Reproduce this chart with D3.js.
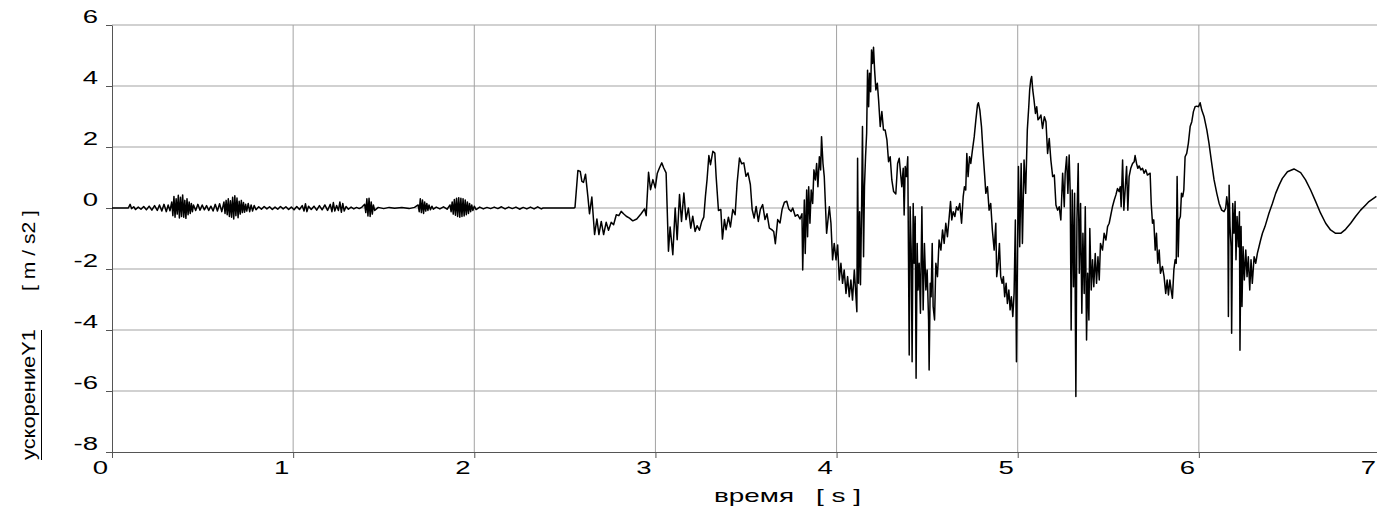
<!DOCTYPE html>
<html>
<head>
<meta charset="utf-8">
<script src="https://cdn.jsdelivr.net/npm/d3@7"></script>
<style>
  body { margin: 0; background: #fff; }
  svg { display: block; font-family: "Liberation Sans", Arial, sans-serif; }
</style>
</head>
<body>
<div id="chart"></div>
<script>
// tick values for both axes
var timeTicks = [0, 1, 2, 3, 4, 5, 6, 7];
var accelTicks = [-8, -6, -4, -2, 0, 2, 4, 6];

// acceleration signal, pairs of [time s, accel m/s2]
// low level vibration before the event
var quietPhase = [
  [0, 0], [0.09, 0], [0.1, 0.12], [0.108, -0.02], [0.12, 0.04], [0.13, -0.05], [0.145, 0.03], [0.16, -0.04],
  [0.175, 0.05], [0.19, -0.06], [0.205, 0.06], [0.22, -0.07], [0.235, 0.08], [0.25, -0.08], [0.262, 0.1],
  [0.275, -0.1], [0.287, 0.12], [0.3, -0.12], [0.31, 0.1], [0.32, -0.09],
  [0.33, 0.2], [0.336, -0.25], [0.342, 0.38], [0.348, -0.3], [0.354, 0.3], [0.36, -0.2], [0.366, 0.42],
  [0.372, -0.33], [0.378, 0.35], [0.384, -0.28], [0.39, 0.43], [0.396, -0.3], [0.402, 0.25], [0.408, -0.34],
  [0.414, 0.3], [0.42, -0.22], [0.426, 0.2], [0.432, -0.18], [0.438, 0.15], [0.444, -0.12], [0.45, 0.1],
  [0.462, -0.08], [0.474, 0.12], [0.486, -0.07], [0.498, 0.1], [0.51, -0.06], [0.522, 0.08], [0.534, -0.08],
  [0.546, 0.06], [0.558, -0.1], [0.57, 0.12], [0.582, -0.1], [0.594, 0.14], [0.606, -0.12],
  [0.618, 0.2], [0.624, -0.18], [0.63, 0.25], [0.636, -0.22], [0.642, 0.3], [0.648, -0.28], [0.654, 0.24],
  [0.66, -0.3], [0.666, 0.35], [0.672, -0.36], [0.678, 0.4], [0.684, -0.25], [0.69, 0.33], [0.696, -0.32],
  [0.702, 0.22], [0.708, -0.2], [0.714, 0.25], [0.72, -0.15], [0.726, 0.18], [0.732, -0.14], [0.738, 0.12],
  [0.744, -0.1], [0.752, 0.15], [0.76, -0.12], [0.768, 0.1], [0.776, -0.1], [0.785, 0.08], [0.795, -0.06],
  [0.81, 0.04], [0.825, -0.04], [0.84, 0.05], [0.855, -0.03], [0.87, 0.04], [0.885, -0.05], [0.9, 0.03],
  [0.915, -0.04], [0.93, 0.05], [0.945, -0.03], [0.96, 0.04], [0.975, -0.05], [0.99, 0.03], [1.005, -0.06],
  [1.02, 0.05], [1.035, -0.05], [1.05, 0.08], [1.06, -0.1], [1.068, 0.14], [1.076, -0.12], [1.085, 0.06],
  [1.1, -0.05], [1.115, 0.06], [1.13, -0.07], [1.145, 0.08], [1.16, -0.06], [1.175, 0.1], [1.19, -0.08],
  [1.205, 0.12], [1.214, -0.12], [1.222, 0.18], [1.23, -0.1], [1.24, 0.08], [1.25, -0.08], [1.258, 0.2],
  [1.266, -0.14], [1.274, 0.15], [1.282, -0.1], [1.292, 0.05], [1.305, -0.04], [1.32, 0.03], [1.335, -0.03],
  [1.35, 0.02], [1.365, -0.02], [1.38, 0.03],
  [1.395, 0.12], [1.401, -0.15], [1.407, 0.3], [1.413, -0.26], [1.419, 0.32], [1.425, -0.28], [1.431, 0.2],
  [1.437, -0.2], [1.443, 0.1], [1.45, -0.08],
  [1.47, 0.02], [1.5, -0.02], [1.53, 0.02], [1.56, -0.01], [1.6, 0.02], [1.64, -0.02], [1.67, 0.02],
  [1.69, 0.1], [1.696, -0.12], [1.702, 0.3], [1.708, -0.15], [1.714, 0.26], [1.72, -0.18], [1.726, 0.2],
  [1.732, -0.1], [1.738, 0.15], [1.744, -0.08], [1.75, 0.1], [1.758, -0.06], [1.766, 0.06], [1.774, -0.04],
  [1.79, 0.03], [1.81, -0.03], [1.83, 0.04], [1.85, -0.04],
  [1.866, 0.1], [1.872, -0.12], [1.878, 0.2], [1.884, -0.2], [1.89, 0.28], [1.896, -0.24], [1.902, 0.32],
  [1.908, -0.28], [1.914, 0.34], [1.92, -0.3], [1.926, 0.32], [1.932, -0.28], [1.938, 0.3], [1.944, -0.26],
  [1.95, 0.26], [1.956, -0.22], [1.962, 0.2], [1.968, -0.18], [1.974, 0.15], [1.98, -0.12], [1.986, 0.1],
  [1.992, -0.08], [2.0, 0.06], [2.01, -0.05],
  [2.03, 0.03], [2.05, -0.03], [2.07, 0.02], [2.09, -0.02], [2.11, 0.03], [2.13, -0.02], [2.15, 0.04],
  [2.17, -0.03], [2.19, 0.03], [2.21, -0.02], [2.23, 0.03], [2.25, -0.04], [2.27, 0.02], [2.29, -0.03],
  [2.31, 0.03], [2.33, -0.03], [2.35, 0.04], [2.37, -0.03], [2.38, 0], [2.55, 0]
];

// first hits, 2.55 .. 3.8 s
var transientPhase = [
  [2.556, 0.02], [2.572, 1.23], [2.585, 1.2], [2.594, 0.87], [2.603, 0.84], [2.614, 1.11], [2.627, 0.38],
  [2.636, -0.19], [2.649, 0.36], [2.664, -0.87], [2.677, -0.36], [2.688, -0.87], [2.701, -0.44], [2.714, -0.87],
  [2.728, -0.47], [2.741, -0.73], [2.756, -0.47], [2.769, -0.55], [2.784, -0.22], [2.798, -0.25], [2.811, -0.11],
  [2.824, -0.19], [2.839, -0.27], [2.857, -0.33], [2.875, -0.42], [2.897, -0.36], [2.921, -0.19], [2.94, -0.03],
  [2.949, -0.25], [2.962, 1.17], [2.973, 0.6], [2.986, 0.93], [2.999, 0.66], [3.01, 1.13], [3.022, 1.31],
  [3.035, 1.48], [3.046, 1.31], [3.059, 1.15], [3.072, -1.42], [3.081, -0.62], [3.096, -1.53], [3.109, 0],
  [3.12, -1.04], [3.133, 0.44], [3.144, -0.44], [3.157, 0.49], [3.169, -0.38], [3.182, 0], [3.195, -0.66],
  [3.206, -0.27], [3.219, -0.77], [3.23, -0.58], [3.243, -0.73], [3.256, -0.44], [3.267, -0.3], [3.276, 0.38],
  [3.285, 0.93], [3.295, 1.72], [3.304, 1.42], [3.317, 1.86], [3.328, 1.8], [3.335, 1.04], [3.348, -0.08],
  [3.361, -0.05], [3.37, -1.02], [3.381, -0.38], [3.39, -0.71], [3.403, -0.3], [3.414, -0.62], [3.427, -0.05],
  [3.44, -0.22], [3.451, 0.82], [3.464, 1.64], [3.476, 1.45], [3.488, 1.48], [3.5, 1.04], [3.511, 1.15],
  [3.524, 0.77], [3.534, -0.05], [3.545, -0.33], [3.556, 0.05], [3.568, -0.44], [3.579, -0.05], [3.592, 0.11],
  [3.605, -0.38], [3.616, -0.19], [3.629, -0.66], [3.642, -0.71], [3.653, -0.77], [3.662, -1.17], [3.675, -0.38],
  [3.688, -0.49], [3.699, -0.05], [3.712, 0.19], [3.725, 0.22], [3.736, -0.03], [3.749, -0.11], [3.758, 0],
  [3.772, -0.27], [3.785, -0.22], [3.798, -0.36], [3.809, -0.19]
];

// strongest part, 3.8 .. 5.1 s
var impactPhase = [
  [3.813, -2.03], [3.822, 0.26], [3.827, -1.49], [3.835, 0.59], [3.84, -0.94], [3.846, 0.7], [3.853, -0.5],
  [3.86, 0.59], [3.868, 0.15], [3.875, 1.25], [3.883, 0.92], [3.89, 1.46], [3.897, 0.7], [3.905, 1.68],
  [3.912, 1.25], [3.917, 2.34], [3.925, 1.46], [3.932, 1.03], [3.945, -0.83], [3.96, 0.04], [3.969, -0.5],
  [3.978, -1.7], [3.987, -1.16], [3.997, -1.7], [4.006, -1.21], [4.015, -2.36], [4.024, -1.81], [4.033, -2.47],
  [4.042, -2.03], [4.052, -2.8], [4.061, -2.25], [4.07, -2.91], [4.079, -2.36], [4.088, -3.02], [4.098, -2.03],
  [4.107, -2.91], [4.112, -3.4], [4.116, 1.63], [4.121, -2.47], [4.127, -0.12], [4.132, -2.52], [4.138, -0.07],
  [4.143, 2.67], [4.149, -1.6], [4.154, 0.7], [4.16, 1.68], [4.166, 2.45], [4.171, 4.52], [4.177, 3.32],
  [4.182, 4.42], [4.188, 3.81], [4.193, 5.18], [4.199, 4.74], [4.204, 5.27], [4.21, 4.52], [4.217, 3.87],
  [4.225, 4.09], [4.232, 3.54], [4.241, 2.67], [4.25, 3.16], [4.259, 2.56], [4.268, 2.56], [4.278, 2.23],
  [4.287, 1.52], [4.296, 1.68], [4.305, 0.92], [4.315, 0.54], [4.327, 0.46], [4.337, 1.46], [4.346, 1.63],
  [4.355, 1.03], [4.36, 0.7], [4.368, 1.3], [4.373, -0.23], [4.379, 1.36], [4.386, 1.03], [4.393, 1.68],
  [4.401, -4.82], [4.406, 0.04], [4.412, -1.38], [4.417, -5.04], [4.423, 0.15], [4.428, -1.81], [4.434, -0.28],
  [4.439, -5.58], [4.445, -1.16], [4.45, -2.69], [4.456, -1.81], [4.463, -3.45], [4.471, 0.04], [4.478, -3.34],
  [4.485, -1.16], [4.493, -2.69], [4.5, -2.03], [4.508, -3.67], [4.511, -5.31], [4.517, -2.47], [4.522, -2.91],
  [4.528, -1.16], [4.533, -3.23], [4.541, -3.67], [4.548, -1.81], [4.557, -2.25], [4.566, -1.05], [4.576, -1.38],
  [4.585, -0.72], [4.594, -1.16], [4.603, -0.5], [4.612, -0.94], [4.622, -0.28], [4.629, 0.21], [4.636, -0.39],
  [4.644, -0.12], [4.653, -0.28], [4.662, 0.04], [4.671, -0.07], [4.68, 0.15], [4.69, -0.5], [4.699, 0.37],
  [4.706, 0.7], [4.713, 0.59], [4.719, 1.79], [4.726, 1.03], [4.734, 1.68], [4.741, 1.46], [4.75, 1.9],
  [4.76, 2.34], [4.769, 2.89], [4.778, 3.38], [4.783, 3.45], [4.791, 3.21], [4.8, 2.67], [4.809, 1.79],
  [4.818, 1.03], [4.824, 0.48], [4.833, 0.7], [4.842, -0.07], [4.851, 0.15], [4.86, -0.72], [4.87, -1.38],
  [4.879, -0.5], [4.884, -2.25], [4.892, -1.81], [4.899, -1.16], [4.906, -2.25], [4.914, -2.47], [4.921, -2.25],
  [4.928, -2.91], [4.936, -2.47], [4.943, -3.13], [4.951, -2.69], [4.958, -3.34], [4.965, -2.91], [4.973, -3.56],
  [4.98, -2.8], [4.987, -0.39], [4.993, -5.04], [4.998, -2.03], [5.004, 1.36], [5.011, -1.27], [5.019, 1.46],
  [5.026, -1.16], [5.035, 1.57], [5.044, 0.48], [5.053, 2.56], [5.061, 3.32], [5.066, 3.87], [5.072, 4.2],
  [5.077, 4.31], [5.083, 3.87], [5.09, 3.54], [5.098, 3.1], [5.105, 3.32], [5.112, 2.89]
];

// last hits and free decay, 5.1 .. 7 s
var decayPhase = [
  [5.119, 2.94], [5.128, 3.05], [5.137, 2.61], [5.147, 2.99], [5.156, 2.83], [5.165, 1.79], [5.174, 2.28],
  [5.183, 1.57], [5.193, 1.03], [5.202, 1.08], [5.211, 0.1], [5.22, -0.07], [5.229, 0.04], [5.238, -0.39],
  [5.248, 1.14], [5.257, 0.04], [5.262, 1.14], [5.27, 1.68], [5.277, 0.48], [5.284, 1.74], [5.29, 0.48],
  [5.295, -4.0], [5.301, 0.59], [5.308, -2.58], [5.314, 0.48], [5.321, -6.18], [5.327, -0.39], [5.334, 1.46],
  [5.34, -2.14], [5.347, 0.15], [5.354, -3.45], [5.36, -0.83], [5.367, -2.8], [5.373, 0.04], [5.38, -4.33],
  [5.386, -2.14], [5.393, -3.67], [5.398, -0.67], [5.406, -2.69], [5.413, -1.7], [5.42, -2.58], [5.428, -1.49],
  [5.435, -2.47], [5.443, -1.6], [5.45, -2.36], [5.457, -1.16], [5.468, -1.38], [5.477, -0.83], [5.487, -1.05],
  [5.496, -0.61], [5.505, -0.5], [5.514, -0.23], [5.523, 0.04], [5.533, 0.26], [5.542, 0.43], [5.551, 0.64],
  [5.56, 0.54], [5.566, 0.7], [5.571, 0.04], [5.579, 1.57], [5.586, -0.07], [5.593, 0.59], [5.601, 1.36],
  [5.608, -0.07], [5.615, 1.03], [5.624, 1.3], [5.634, 1.46], [5.643, 1.52], [5.648, 1.72], [5.656, 1.46],
  [5.663, 1.3], [5.67, 1.38], [5.68, 1.25], [5.689, 1.3], [5.698, 1.14], [5.707, 1.25], [5.716, 1.08],
  [5.731, 1.14], [5.737, 0.15], [5.744, -0.5], [5.751, -0.39], [5.759, -1.38], [5.766, -0.83], [5.773, -1.81],
  [5.781, -1.38], [5.788, -2.14], [5.799, -1.92], [5.808, -2.25], [5.817, -2.8], [5.825, -2.36], [5.832, -2.85],
  [5.84, -2.36], [5.847, -2.69], [5.854, -2.96], [5.862, -2.03], [5.869, -1.7], [5.875, -1.81], [5.88, 1.03],
  [5.886, -1.6], [5.891, -0.39], [5.898, -0.28], [5.904, 0.48], [5.911, 0.37], [5.917, 0.59], [5.924, 1.68],
  [5.933, 1.79], [5.942, 2.12], [5.952, 2.67], [5.961, 2.83], [5.97, 3.16], [5.979, 3.32], [5.988, 3.34],
  [5.998, 3.32], [6.007, 3.45], [6.016, 3.21], [6.029, 2.99], [6.044, 2.56], [6.056, 2.12], [6.071, 1.46],
  [6.084, 0.92], [6.099, 0.48], [6.112, 0.15], [6.126, -0.07], [6.139, -0.12], [6.148, -0.01], [6.154, 0.37],
  [6.16, 0.04], [6.163, -3.56], [6.167, 0.75], [6.172, -0.61], [6.178, -1.27], [6.181, -4.11], [6.187, 0.15],
  [6.194, -0.83], [6.2, 0.21], [6.205, -1.7], [6.211, -0.28], [6.218, -1.27], [6.224, -0.12], [6.227, -4.66],
  [6.233, -0.61], [6.238, -3.23], [6.244, -1.27], [6.251, -2.36], [6.259, -1.38], [6.266, -2.25], [6.273, -1.6],
  [6.281, -2.69], [6.288, -1.7], [6.295, -2.47], [6.305, -1.6], [6.314, -1.81], [6.323, -1.49], [6.332, -1.27],
  [6.341, -1.05], [6.351, -0.83], [6.365, -0.61], [6.387, -0.17], [6.406, 0.15], [6.424, 0.48], [6.443, 0.75],
  [6.461, 0.97], [6.489, 1.19], [6.525, 1.28], [6.562, 1.16], [6.589, 0.92], [6.617, 0.59], [6.645, 0.21],
  [6.672, -0.17], [6.7, -0.5], [6.727, -0.72], [6.755, -0.83], [6.783, -0.83], [6.81, -0.7], [6.838, -0.5],
  [6.865, -0.28], [6.893, -0.07], [6.921, 0.1], [6.939, 0.21], [6.98, 0.38]
];

var width = 1377;
var height = 507;
var axisColor = "#555";
var gridColor = "#a3a3a3";

var svg = d3.select("#chart")
  .append("svg")
  .attr("width", width)
  .attr("height", height);

// t = 7 s sits just past the right edge of the picture
var x = d3.scaleLinear().domain([0, 7]).range([112, 1380]);
var y = d3.scaleLinear().domain([-8, 6]).range([452, 25]);

// grid
svg.append("g")
  .selectAll("line")
  .data(timeTicks.filter(function (d) { return d > 0; }))
  .enter()
  .append("line")
  .attr("x1", function (d) { return x(d); })
  .attr("x2", function (d) { return x(d); })
  .attr("y1", y(6))
  .attr("y2", y(-8))
  .attr("stroke", gridColor)
  .attr("stroke-width", 1);

svg.append("g")
  .selectAll("line")
  .data(accelTicks.filter(function (d) { return d > -8; }))
  .enter()
  .append("line")
  .attr("x1", x(0))
  .attr("x2", width)
  .attr("y1", function (d) { return y(d); })
  .attr("y2", function (d) { return y(d); })
  .attr("stroke", gridColor)
  .attr("stroke-width", 1);

// axes, labels are wide and sit beside the tick
var yAxis = d3.axisLeft(y)
  .tickValues(accelTicks)
  .tickSize(6)
  .tickSizeOuter(0)
  .tickFormat(function (d) { return String(d); });

var yAxisG = svg.append("g")
  .attr("transform", "translate(" + x(0) + ",0)")
  .attr("color", axisColor)
  .call(yAxis);

yAxisG.selectAll("text")
  .attr("x", 0)
  .attr("dy", null)
  .attr("fill", "#000")
  .attr("text-anchor", "end")
  .attr("font-size", 19)
  .attr("font-family", "Liberation Sans, Arial, sans-serif")
  .attr("transform", "translate(-14,-3) scale(1.45,1)");

var xAxis = d3.axisBottom(x)
  .tickValues(timeTicks)
  .tickSize(6)
  .tickSizeOuter(0)
  .tickFormat(function (d) { return String(d); });

var xAxisG = svg.append("g")
  .attr("transform", "translate(0," + y(-8) + ")")
  .attr("color", axisColor)
  .call(xAxis);

xAxisG.selectAll("text")
  .attr("y", 0)
  .attr("dy", null)
  .attr("fill", "#000")
  .attr("text-anchor", "middle")
  .attr("font-size", 19)
  .attr("font-family", "Liberation Sans, Arial, sans-serif")
  .attr("transform", "translate(-12,22) scale(1.45,1)");

// the signal
var signal = quietPhase.concat(transientPhase, impactPhase, decayPhase);

var line = d3.line()
  .x(function (d) { return x(d[0]); })
  .y(function (d) { return y(d[1]); });

svg.append("path")
  .datum(signal)
  .attr("d", line)
  .attr("fill", "none")
  .attr("stroke", "#000")
  .attr("stroke-width", 1.5)
  .attr("stroke-linejoin", "round");

// axis titles
svg.append("text")
  .attr("x", 714)
  .attr("y", 502)
  .attr("font-size", 19)
  .attr("textLength", 80)
  .attr("lengthAdjust", "spacingAndGlyphs")
  .text("время");

svg.append("text")
  .attr("x", 816)
  .attr("y", 502)
  .attr("font-size", 19)
  .attr("textLength", 45)
  .attr("lengthAdjust", "spacingAndGlyphs")
  .text("[ s ]");

svg.append("text")
  .attr("transform", "translate(35,460) rotate(-90)")
  .attr("font-size", 19)
  .attr("textLength", 131)
  .attr("lengthAdjust", "spacingAndGlyphs")
  .text("ускорениеY1");

svg.append("line")
  .attr("x1", 41.5)
  .attr("x2", 41.5)
  .attr("y1", 330)
  .attr("y2", 460)
  .attr("stroke", "#000")
  .attr("stroke-width", 1);

svg.append("text")
  .attr("transform", "translate(35,291) rotate(-90)")
  .attr("font-size", 19)
  .attr("textLength", 81)
  .attr("lengthAdjust", "spacingAndGlyphs")
  .text("[ m / s2 ]");
</script>
</body>
</html>
